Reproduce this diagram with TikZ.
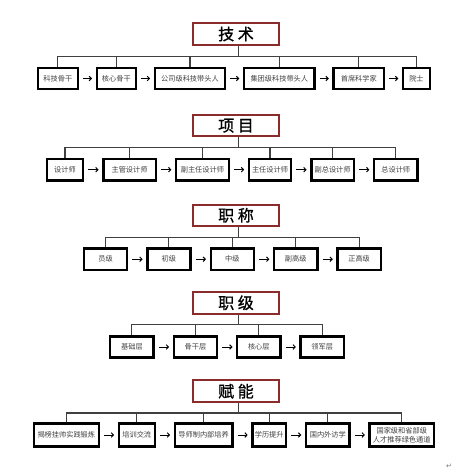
\documentclass[tikz,border=0pt]{standalone}
\usepackage{fontspec}
\newfontfamily\cjk{Noto Sans CJK SC}
\newfontfamily\cjkhead{Noto Sans CJK SC}[FakeBold=1]
\newfontfamily\sym{DejaVu Sans}
\usepackage{tikz}
\usetikzlibrary{positioning,arrows.meta}
\definecolor{headred}{HTML}{8B2C2C}

\begin{document}
\begin{tikzpicture}[x=1pt, y=-1pt,
  font=\cjk,
  head/.style={draw=headred, line width=2pt, minimum width=86.3pt, minimum height=21.5pt, inner sep=0pt, font=\cjkhead\fontsize{16}{16}\selectfont},
  box/.style={draw, line width=2.4pt, minimum height=21.2pt, inner sep=1pt, align=center, text=black!75, font=\cjk\fontsize{7.2}{8.6}\selectfont},
  arr/.style={-{Straight Barb[length=2.2pt,width=4.6pt]}, line width=1pt, shorten <=4pt, shorten >=3.5pt},
  link/.style={draw=black!75, line width=1.1pt},
  node distance=17.8pt]
\useasboundingbox (0,0) rectangle (467,475);
% technique ladder
\node[head] (jishu) at (236,34) {技 术};
\node[box, minimum width=39.9pt, anchor=west] (js1) at (36.7,78.5) {科技骨干};
\node[box, minimum width=39.2pt, right=16.5pt of js1] (js2) {核心骨干};
\node[box, minimum width=70.3pt, right=16.5pt of js2] (js3) {公司级科技带头人};
\node[box, minimum width=70.6pt, right=16.5pt of js3] (js4) {集团级科技带头人};
\node[box, minimum width=50.6pt, right=16.5pt of js4] (js5) {首席科学家};
\node[box, minimum width=26.9pt, right=16.5pt of js5] (js6) {院士};
% project ladder
\node[head] (xiangmu) at (236,125.7) {项 目};
\node[box, minimum width=36.2pt, anchor=west] (xm1) at (45.7,169.7) {设计师};
\node[box, minimum width=52.6pt, right=of xm1] (xm2) {主管设计师};
\node[box, minimum width=52.6pt, right=of xm2] (xm3) {副主任设计师};
\node[box, minimum width=42.2pt, right=of xm3] (xm4) {主任设计师};
\node[box, minimum width=42.6pt, right=of xm4] (xm5) {副总设计师};
\node[box, minimum width=43.3pt, right=of xm5] (xm6) {总设计师};
% title ladder
\node[head] (zhicheng) at (236,215.3) {职 称};
\node[box, minimum width=43.2pt, anchor=west] (zc1) at (82.7,259.2) {员级};
\node[box, minimum width=43.2pt, right=of zc1] (zc2) {初级};
\node[box, minimum width=43.2pt, right=of zc2] (zc3) {中级};
\node[box, minimum width=43.2pt, right=of zc3] (zc4) {副高级};
\node[box, minimum width=43.2pt, right=of zc4] (zc5) {正高级};
% rank ladder
\node[head] (zhiji) at (236,302.8) {职 级};
\node[box, minimum width=43.4pt, anchor=west] (zj1) at (109,347) {基础层};
\node[box, minimum width=43.2pt, right=of zj1] (zj2) {骨干层};
\node[box, minimum width=43.2pt, right=of zj2] (zj3) {核心层};
\node[box, minimum width=43.2pt, right=of zj3] (zj4) {领军层};
% empowerment
\node[head] (funeng) at (236,391.2) {赋 能};
\node[box, minimum width=64.9pt, minimum height=23pt, anchor=west] (fn1) at (32.7,435) {揭榜挂帅实践锻炼};
\node[box, minimum width=36pt, minimum height=23pt, right=17.6pt of fn1] (fn2) {培训交流};
\node[box, minimum width=57.6pt, minimum height=23pt, right=17.6pt of fn2] (fn3) {导师制内部培养};
\node[box, minimum width=33.6pt, minimum height=23pt, right=17.6pt of fn3] (fn4) {学历提升};
\node[box, minimum width=43.6pt, minimum height=23pt, right=17.6pt of fn4] (fn5) {国内外访学};
\node[box, minimum width=64.3pt, minimum height=23pt, inner sep=0pt, right=17.6pt of fn5] (fn6) {国家级和省部级\\人才推荐绿色通道};
\node[text=black!55, font=\sym\fontsize{7}{7}\selectfont] (ret) at (449,466) {↵};
% trees
\draw[link] ([xshift=2.5pt]jishu.south) -- ++(0,11) coordinate (jbar)
  (js1.north) |- (jbar) (js2.north) |- (jbar) (js3.north) |- (jbar)
  (js4.north) |- (jbar) (js5.north) |- (jbar) (js6.north) |- (jbar);
\draw[link] ([xshift=2.5pt]xiangmu.south) -- ++(0,10.4) coordinate (xbar)
  (xm1.north) |- (xbar) (xm2.north) |- (xbar) (xm3.north) |- (xbar)
  (xm4.north) |- (xbar) (xm5.north) |- (xbar) (xm6.north) |- (xbar);
\draw[link] ([xshift=2.5pt]zhicheng.south) -- ++(0,10) coordinate (cbar)
  (zc1.north) |- (cbar) (zc2.north) |- (cbar) (zc3.north) |- (cbar)
  (zc4.north) |- (cbar) (zc5.north) |- (cbar);
\draw[link] ([xshift=2.5pt]zhiji.south) -- ++(0,10) coordinate (gbar)
  (zj1.north) |- (gbar) (zj2.north) |- (gbar) (zj3.north) |- (gbar)
  (zj4.north) |- (gbar);
\draw[link] ([xshift=2.5pt]funeng.south) -- ++(0,10) coordinate (fbar)
  (fn1.north) |- (fbar) (fn2.north) |- (fbar) (fn3.north) |- (fbar)
  (fn4.north) |- (fbar) (fn5.north) |- (fbar) (fn6.north) |- (fbar);
% steps
\draw[arr] (js1) -- (js2); \draw[arr] (js2) -- (js3); \draw[arr] (js3) -- (js4);
\draw[arr] (js4) -- (js5); \draw[arr] (js5) -- (js6);
\draw[arr] (xm1) -- (xm2); \draw[arr] (xm2) -- (xm3); \draw[arr] (xm3) -- (xm4);
\draw[arr] (xm4) -- (xm5); \draw[arr] (xm5) -- (xm6);
\draw[arr] (zc1) -- (zc2); \draw[arr] (zc2) -- (zc3); \draw[arr] (zc3) -- (zc4);
\draw[arr] (zc4) -- (zc5);
\draw[arr] (zj1) -- (zj2); \draw[arr] (zj2) -- (zj3); \draw[arr] (zj3) -- (zj4);
\draw[arr] (fn1) -- (fn2); \draw[arr] (fn2) -- (fn3); \draw[arr] (fn3) -- (fn4);
\draw[arr] (fn4) -- (fn5); \draw[arr] (fn5) -- (fn6);
\end{tikzpicture}
\end{document}
